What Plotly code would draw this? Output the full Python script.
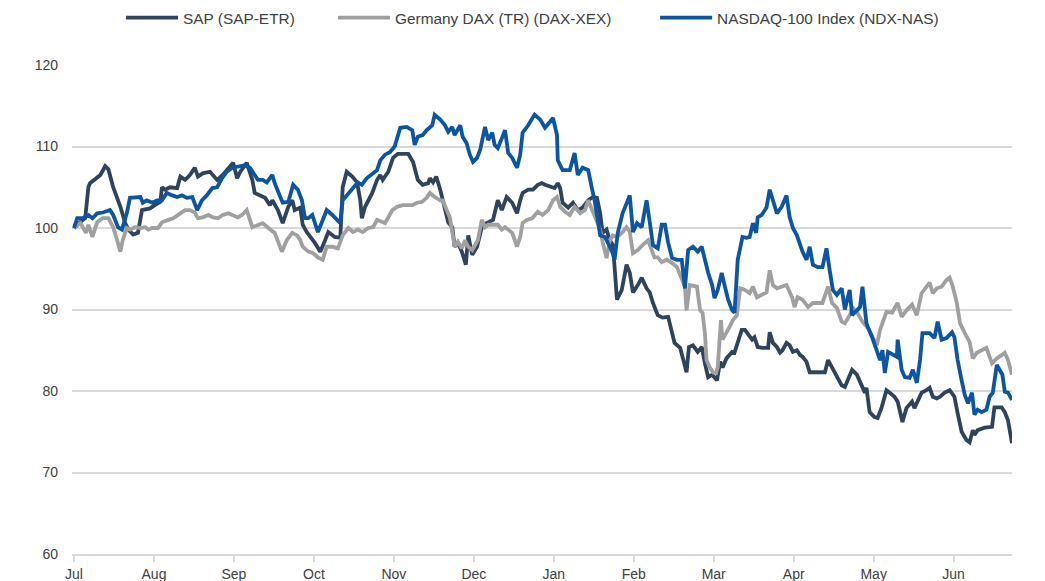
import plotly.graph_objects as go

# Month labels for x axis (x position = months since start of July)
month_labels = ["Jul", "Aug", "Sep", "Oct", "Nov", "Dec", "Jan", "Feb", "Mar", "Apr", "May", "Jun"]
y_ticks = [60, 70, 80, 90, 100, 110, 120]

series_names = ["SAP (SAP-ETR)", "Germany DAX (TR) (DAX-XEX)", "NASDAQ-100 Index (NDX-NAS)"]

# --- SAP (SAP-ETR) ---
sap_t = [0.00, 0.05, 0.11, 0.14, 0.18, 0.20, 0.26, 0.33, 0.39, 0.43, 0.49, 0.58, 0.64, 0.68, 0.74, 0.80, 0.85, 0.95,
         1.01, 1.08, 1.10, 1.14, 1.20, 1.29, 1.33, 1.39, 1.45, 1.51, 1.55, 1.61, 1.70, 1.79, 1.86, 1.95, 1.99,
         2.04, 2.08, 2.16, 2.23, 2.26, 2.39, 2.45, 2.48, 2.55, 2.61, 2.68, 2.73, 2.76, 2.83, 2.86, 2.91,
         3.01, 3.08, 3.14, 3.18, 3.26, 3.33, 3.36, 3.41, 3.48, 3.54, 3.58, 3.60, 3.64, 3.73, 3.79, 3.83, 3.86, 3.93, 3.99,
         4.05, 4.18, 4.24, 4.30, 4.36, 4.43, 4.45, 4.49, 4.53, 4.58, 4.64, 4.68, 4.73, 4.76, 4.80, 4.85, 4.90, 4.93, 4.98,
         5.04, 5.10, 5.16, 5.24, 5.30, 5.35, 5.41, 5.48, 5.54, 5.58, 5.61, 5.68, 5.74, 5.80, 5.85, 5.89, 5.98,
         6.01, 6.05, 6.08, 6.11, 6.18, 6.24, 6.30, 6.36, 6.43, 6.49, 6.54, 6.58, 6.61, 6.66, 6.70, 6.74, 6.79, 6.85, 6.91, 6.95, 6.99,
         7.05, 7.10, 7.16, 7.20, 7.24, 7.30, 7.36, 7.43, 7.48, 7.51, 7.58, 7.61, 7.66, 7.69, 7.74, 7.80, 7.85, 7.89, 7.93, 7.98,
         8.04, 8.08, 8.11, 8.16, 8.23, 8.26, 8.30, 8.35, 8.39, 8.43, 8.48, 8.51, 8.55, 8.61, 8.68, 8.70, 8.74, 8.79, 8.83, 8.86, 8.91, 8.95, 8.99,
         9.04, 9.08, 9.11, 9.16, 9.20, 9.26, 9.33, 9.39, 9.43, 9.48, 9.51, 9.55, 9.60, 9.64, 9.73, 9.79, 9.85, 9.89, 9.91, 9.95,
         10.01, 10.05, 10.10, 10.16, 10.20, 10.26, 10.30, 10.36, 10.41, 10.48, 10.51, 10.60, 10.66, 10.70, 10.74, 10.79, 10.83, 10.89, 10.95,
         11.01, 11.05, 11.10, 11.16, 11.20, 11.24, 11.26, 11.30, 11.39, 11.48, 11.51, 11.60, 11.64, 11.68, 11.73]
sap_v = [100, 100.5, 101, 101.2, 105, 105.5, 106, 106.5, 107.6, 107.2, 105, 102.6, 100.6, 99.8, 99.2, 99.4, 102.2, 102.4,
         102.8, 103.2, 105, 104.7, 105, 104.9, 106.3, 105.9, 106.5, 107.4, 106.3, 106.7, 106.9, 105.9, 106.5, 107.5, 108,
         106.1, 106.9, 108, 105.9, 104.3, 103.7, 102.8, 103.4, 102.2, 100.6, 102.6, 103.4, 102.2, 102.5, 100.4, 99.5,
         98.2, 97.1, 98.5, 99.5, 98.9, 98.8, 105, 106.9, 106.3, 105.6, 103.4, 101.2, 102.6, 104.3, 105.9, 106.5, 105.9, 106.9, 108.6,
         109.1, 109.1, 108.1, 105.9, 105.3, 105.5, 106.1, 105.6, 106.3, 104.7, 102.2, 100.7, 100.1, 97.7, 98.2, 97.1, 95.5, 99.1, 96.7,
         97.7, 100.1, 100.6, 101, 103.4, 102.2, 103.8, 103.1, 101.8, 103.4, 104.3, 104.7, 104.7, 105.3, 105.5, 105.3, 105,
         104.9, 105.5, 104.9, 103.1, 102.5, 103.1, 102.2, 102.5, 103.4, 103.8, 103.7, 101.8, 99.4, 99.8, 98.5, 97.9, 91.2, 92.4, 95.5, 94.5, 92.1,
         93, 93.9, 92.6, 92.1, 90.8, 89.3, 89, 89.1, 87.1, 85.9, 85.3, 84.2, 82.3, 85.4, 85.6, 84.8, 85.4, 83.4, 81.7, 82,
         81.3, 83.6, 82.9, 84, 84.8, 84.7, 85.9, 87.5, 87.5, 86.9, 86.3, 86.6, 85.4, 85.3, 85.3, 87.2, 85.9, 85.4, 84.7, 85, 85.9, 85.6, 84.8,
         85, 84.4, 84.2, 83.6, 82.3, 82.3, 82.3, 82.3, 83.8, 82.9, 82.2, 81.7, 80.7, 80.5, 82.6, 82, 80.5, 79.8, 80.4, 77.4,
         76.8, 76.7, 78, 80.1, 79.8, 79.3, 78.7, 76.2, 77.9, 78.7, 77.9, 79.8, 80.1, 80.4, 79.3, 79.1, 79.3, 79.8, 80.1,
         79.3, 77.3, 75, 74, 73.7, 75.2, 74.6, 75.2, 75.5, 75.6, 78, 78, 77.4, 76.4, 73.6]

# --- Germany DAX (TR) (DAX-XEX) ---
dax_t = [0.00, 0.08, 0.11, 0.15, 0.18, 0.23, 0.29, 0.36, 0.43, 0.49, 0.54, 0.58, 0.61, 0.66, 0.70, 0.76, 0.83, 0.89, 0.93, 0.98,
         1.05, 1.10, 1.18, 1.24, 1.33, 1.39, 1.45, 1.51, 1.55, 1.61, 1.68, 1.74, 1.80, 1.86, 1.93, 1.98,
         2.05, 2.10, 2.16, 2.23, 2.30, 2.36, 2.43, 2.51, 2.60, 2.66, 2.73, 2.79, 2.83, 2.86, 2.93, 2.99,
         3.05, 3.11, 3.16, 3.23, 3.30, 3.36, 3.43, 3.49, 3.55, 3.61, 3.68, 3.74, 3.79, 3.85, 3.89, 3.98,
         4.04, 4.11, 4.23, 4.29, 4.35, 4.41, 4.45, 4.51, 4.58, 4.61, 4.66, 4.70, 4.74, 4.76, 4.80, 4.85, 4.89, 4.93, 4.98,
         5.01, 5.05, 5.10, 5.14, 5.18, 5.24, 5.30, 5.35, 5.39, 5.43, 5.48, 5.54, 5.58, 5.61, 5.66, 5.73, 5.76, 5.80, 5.86, 5.93, 5.99,
         6.04, 6.08, 6.14, 6.20, 6.26, 6.33, 6.39, 6.43, 6.48, 6.51, 6.58, 6.61, 6.66, 6.70, 6.74, 6.79, 6.85, 6.91, 6.95, 6.99,
         7.05, 7.11, 7.18, 7.23, 7.26, 7.30, 7.35, 7.41, 7.48, 7.54, 7.60, 7.64, 7.66, 7.70, 7.79, 7.83, 7.86, 7.89, 7.91, 7.95, 7.99,
         8.03, 8.05, 8.09, 8.11, 8.16, 8.20, 8.24, 8.29, 8.33, 8.39, 8.45, 8.49, 8.54, 8.60, 8.66, 8.70, 8.74, 8.79, 8.85, 8.91, 8.98,
         9.01, 9.05, 9.11, 9.18, 9.24, 9.30, 9.36, 9.43, 9.48, 9.54, 9.60, 9.64, 9.70, 9.74, 9.79, 9.83, 9.86, 9.93, 9.99,
         10.04, 10.08, 10.11, 10.16, 10.23, 10.26, 10.30, 10.35, 10.41, 10.48, 10.54, 10.60, 10.64, 10.70, 10.74, 10.79, 10.85, 10.91, 10.95, 10.99,
         11.04, 11.08, 11.14, 11.20, 11.24, 11.29, 11.35, 11.41, 11.48, 11.54, 11.60, 11.64, 11.68, 11.73]
dax_v = [100, 100.6, 100.1, 99.4, 100.4, 98.9, 100.7, 101.2, 101.2, 100.1, 98.5, 97.1, 98.5, 100, 99.8, 100.1, 100, 100.1, 99.8, 100,
         100, 100.7, 101, 101.2, 101.8, 102.2, 102.2, 101.9, 101.2, 101.3, 101.6, 101.3, 101.2, 101.6, 101.8, 101.6,
         101.3, 101.6, 102.2, 100.1, 100.4, 100.6, 100, 99.4, 97.1, 98.5, 99.4, 99.1, 98.5, 97.7, 97.1, 96.9,
         96.4, 96.1, 97.7, 97.7, 97.5, 99.1, 100, 99.5, 99.8, 99.5, 100, 100.1, 101, 100.7, 100.6, 102.2,
         102.6, 102.8, 102.8, 103.1, 103.2, 103.7, 104.3, 103.8, 103.4, 103.4, 102.2, 101.3, 98.9, 97.7, 98.3, 97.5, 98.5, 97.7, 97.3,
         97.9, 98.5, 101, 100.1, 100.4, 100.4, 100.4, 99.8, 100.1, 99.8, 99.4, 97.7, 98.9, 100.6, 101, 101.2, 101.6, 102, 101.6, 102.2, 103.4,
         103.8, 102.6, 102, 101.6, 102.6, 101.8, 102.2, 103.4, 102.2, 101.2, 99.8, 98.3, 96.3, 98.5, 99.1, 98.9, 99.4, 100.1, 99.5, 96.9,
         97.3, 97.9, 98.5, 97.1, 96.4, 96.4, 95.8, 96.1, 95.7, 95.2, 93.6, 92.8, 89.9, 93, 92.8, 89.9, 89.6, 87.1, 83.8, 82.9, 82.3,
         82.2, 82.9, 88.7, 86.3, 87.1, 87.9, 88.7, 89.3, 92.6, 92.4, 92, 92.8, 91.5, 91.8, 92.1, 94.8, 93, 92.6, 92.8, 93, 91.5,
         90.3, 91.5, 91.2, 90.3, 90.8, 90.8, 90.8, 92.8, 90.8, 90.2, 88.5, 88.3, 89.3, 90.2, 89.7, 89, 88.5, 87.7, 86.6,
         85.6, 87.5, 88.3, 89.7, 89.6, 90.2, 90.8, 89.1, 89.9, 90.6, 89.3, 92, 92.6, 93.3, 92, 92.6, 92.8, 93.6, 93.9, 92.8,
         90.8, 88.3, 87.1, 86, 84, 84.7, 85, 85.3, 83.4, 84, 84.4, 84.7, 83.8, 82]

# --- NASDAQ-100 Index (NDX-NAS) ---
ndx_t = [0.00, 0.04, 0.11, 0.18, 0.23, 0.29, 0.36, 0.45, 0.49, 0.55, 0.60, 0.66, 0.70, 0.76, 0.83, 0.86, 0.91, 0.98,
         1.04, 1.10, 1.16, 1.23, 1.29, 1.35, 1.41, 1.48, 1.54, 1.60, 1.66, 1.73, 1.79, 1.85, 1.91, 1.98,
         2.05, 2.14, 2.20, 2.26, 2.30, 2.36, 2.41, 2.48, 2.51, 2.58, 2.61, 2.68, 2.74, 2.80, 2.85, 2.89, 2.93, 2.98,
         3.01, 3.05, 3.10, 3.16, 3.23, 3.29, 3.33, 3.36, 3.43, 3.49, 3.55, 3.60, 3.66, 3.73, 3.79, 3.83, 3.89, 3.95,
         4.01, 4.08, 4.16, 4.23, 4.26, 4.30, 4.36, 4.41, 4.48, 4.51, 4.58, 4.64, 4.68, 4.73, 4.76, 4.83, 4.86, 4.91, 4.95, 4.99,
         5.04, 5.08, 5.14, 5.18, 5.23, 5.26, 5.30, 5.35, 5.39, 5.43, 5.48, 5.54, 5.58, 5.61, 5.68, 5.74, 5.76, 5.83, 5.89, 5.95, 5.99,
         6.04, 6.05, 6.11, 6.20, 6.26, 6.30, 6.36, 6.43, 6.48, 6.51, 6.55, 6.58, 6.64, 6.68, 6.73, 6.76, 6.80, 6.86, 6.93, 6.95, 6.99,
         7.04, 7.10, 7.16, 7.20, 7.24, 7.30, 7.35, 7.39, 7.43, 7.48, 7.54, 7.60, 7.64, 7.68, 7.74, 7.80, 7.85, 7.89, 7.93, 7.98,
         8.01, 8.05, 8.10, 8.14, 8.18, 8.23, 8.26, 8.30, 8.36, 8.41, 8.45, 8.49, 8.53, 8.55, 8.60, 8.66, 8.70, 8.74, 8.79, 8.85, 8.91, 8.95, 8.99,
         9.04, 9.08, 9.11, 9.16, 9.20, 9.24, 9.30, 9.36, 9.41, 9.45, 9.49, 9.54, 9.60, 9.64, 9.70, 9.73, 9.79, 9.83, 9.86, 9.91, 9.98,
         10.04, 10.08, 10.11, 10.14, 10.18, 10.24, 10.29, 10.30, 10.35, 10.39, 10.45, 10.49, 10.54, 10.58, 10.61, 10.70, 10.76, 10.80, 10.85, 10.91, 10.98,
         11.01, 11.05, 11.10, 11.14, 11.18, 11.23, 11.26, 11.30, 11.35, 11.41, 11.45, 11.49, 11.54, 11.58, 11.61, 11.64, 11.68, 11.73]
ndx_v = [100, 101.2, 101.2, 101.6, 101.2, 101.8, 101.9, 102.2, 101.6, 100.1, 99.8, 101.8, 103.7, 103.8, 103.8, 103.1, 103.4, 103.1,
         103.4, 103.4, 104.3, 104, 103.8, 104, 103.7, 103.8, 102.2, 103.4, 104, 104.9, 105, 106.1, 106.9, 107.4,
         107.5, 107.7, 107.4, 106.5, 105.9, 105.9, 105.6, 106.5, 105.5, 103.8, 103.1, 103.2, 105.3, 104.7, 103.4, 101.2, 101.2, 101.6,
         100.6, 99.5, 100.7, 102.2, 101.6, 101, 100.6, 103.4, 104.3, 104.9, 105.6, 105.3, 106.1, 106.7, 107.1, 108.3, 109, 109.3,
         110, 112.3, 112.4, 112, 110.2, 111.2, 111.4, 112, 112.6, 113.9, 113.3, 112.6, 111.8, 112.4, 111.4, 112.6, 111.2, 110.4, 109, 108.1,
         108.6, 109.6, 112.4, 110.8, 111.7, 110.2, 109.8, 111, 112, 109.2, 108.6, 107.4, 109, 111.7, 112.6, 113.6, 113.9, 113.3, 112.3, 113, 113.5,
         111.4, 108.3, 107.1, 107.1, 109.2, 106.5, 107.4, 107.1, 104.7, 103.4, 101, 99.1, 98.9, 98.2, 97.1, 96.1, 99.4, 101.8, 103.4, 104, 99.5,
         100.6, 100.1, 103.4, 100.7, 97.9, 97.5, 100.4, 100.4, 98.2, 96.3, 96.1, 96.1, 92.6, 97.3, 97.7, 97.1, 97.7, 96.1, 94.5, 93,
         91.4, 92.4, 94.5, 92.8, 91.2, 89.9, 89.6, 96.1, 98.9, 98.8, 98.9, 100.6, 99.4, 101.3, 101.6, 102.5, 104.7, 103.4, 101.8, 102.6, 104, 101.3, 100,
         99.1, 97.9, 97.1, 96.1, 97.7, 95.5, 95.2, 95.2, 97.5, 94.8, 92.4, 91.8, 92.6, 90, 92.4, 89.3, 89.9, 90.3, 92.8, 88.3, 86.6,
         85, 83.8, 85, 82.2, 84.8, 84.4, 84.2, 86.3, 82.6, 81.7, 81.6, 82.6, 81, 83.8, 87.1, 87.1, 86.5, 88.5, 86.3, 86.5, 87.2,
         86.6, 83.8, 81.3, 79.5, 78.5, 79.8, 77.1, 77.7, 77.4, 77.7, 79.3, 79.8, 83.2, 82.6, 82, 79.9, 79.8, 78.9]

colors = ["#2F445C", "#A0A0A0", "#0B55A3"]
font_family = "Liberation Sans, Arial, sans-serif"
legend_ids = ["legend", "legend2", "legend3"]
legend_left = [0.109, 0.3134, 0.624]   # container fraction for each legend entry

fig = go.Figure()
for name, t, v, c, lg in zip(series_names, [sap_t, dax_t, ndx_t], [sap_v, dax_v, ndx_v], colors, legend_ids):
    fig.add_trace(go.Scatter(x=t, y=v, mode="lines", name=name, legend=lg,
                             line=dict(color=c, width=3.8, shape="linear")))

legend_common = dict(orientation="h", xanchor="left", y=0.9825, yanchor="middle",
                     xref="container", yref="container", bgcolor="rgba(0,0,0,0)",
                     font=dict(size=15.4, color="#404040", family=font_family), itemwidth=52)

fig.update_layout(
    width=1037, height=573,
    margin=dict(l=64, r=33, t=57, b=27, autoexpand=False),
    paper_bgcolor="white", plot_bgcolor="white",
    font=dict(family=font_family, size=14, color="#404040"),
    showlegend=True,
    legend=dict(x=legend_left[0], **legend_common),
    legend2=dict(x=legend_left[1], **legend_common),
    legend3=dict(x=legend_left[2], **legend_common),
)
fig.update_xaxes(
    range=[-0.025, 11.73], tickmode="array", tickvals=list(range(12)), ticktext=month_labels,
    showgrid=False, zeroline=False, showline=True, linecolor="#D9D9D9", linewidth=1.5,
    ticks="outside", ticklen=6, tickcolor="#D9D9D9", tickwidth=1.5, automargin=False,
    tickfont=dict(size=14, color="#404040"), fixedrange=True,
)
fig.update_yaxes(
    range=[60, 120], tickvals=y_ticks, showgrid=True, gridcolor="#D9D9D9", gridwidth=1.5,
    zeroline=False, showline=False, ticks="", ticklabelstandoff=13, automargin=False,
    tickfont=dict(size=14, color="#404040"), fixedrange=True,
)

fig.write_html("out.html")
